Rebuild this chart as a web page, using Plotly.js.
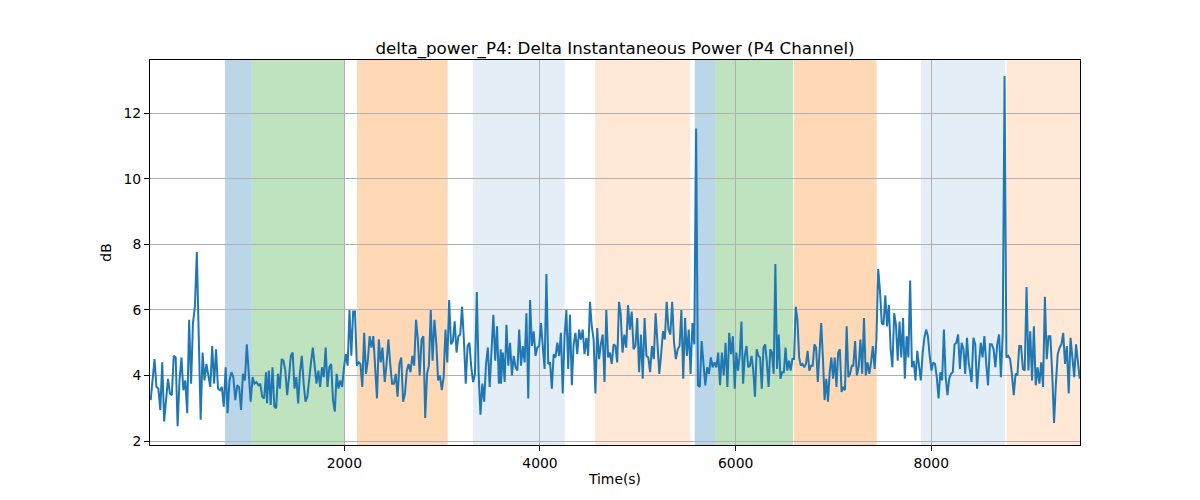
<!DOCTYPE html>
<html>
<head>
<meta charset="utf-8">
<script src="https://cdn.plot.ly/plotly-3.0.1.min.js"></script>
<style>html,body{margin:0;padding:0;background:#fff;}#chart{width:1200px;height:500px;}</style>
</head>
<body>
<div id="chart"></div>
<script>
// ---- data: signal, in 8 consecutive stretches ----
const segStart = [21, 1210, 2413, 3602, 4825, 6007, 7203, 8393];
const segEnd   = [1200, 2409, 3599, 4808, 5991, 7187, 8383, 9517];
const seg1 = [3.25,3.8,4.5,3.65,3.6,2.95,4.4,2.6,3.25,3.9,3.45,3.4,4.6,4.55,2.45,3.85,4.55,3.55,3.85,2.85,5.7,3.75,5.6,6.1,7.77,5.0,2.65,4.7,3.85,4.35,3.95,3.65,4.9,3.75,4.8,3.6,3.55,3.65,3.05,4.25,2.85,3.85,4.1,3.95,3.25,3.7,3.65,2.95,4.05,3.85,4.95,4.15,3.2,3.95,3.75,3.8,3.7,3.75,3.35,3.3,4.1];
const seg2 = [3.15,4.15,3.1,4.25,3.05,3.0,4.05,3.6,4.5,4.45,4.15,3.4,3.95,4.6,4.7,3.6,3.95,3.15,4.1,4.6,3.75,3.2,3.35,4.0,4.4,4.85,4.25,3.75,4.15,3.65,4.25,3.95,4.85,3.65,4.25,4.35,3.25,2.9,4.05,3.6,3.85,3.65,4.25,4.65,4.3,6.0,4.6,5.95,5.95,4.3,4.4,4.35,3.65,5.3,4.05,4.45,5.2,4.85,5.2,4.25,3.3,5.1,4.4,4.85,3.9];
const seg3 = [3.8,4.35,5.1,4.35,3.75,3.75,4.05,3.35,4.35,4.55,3.2,3.45,4.15,4.35,4.1,4.6,4.3,5.7,5.1,4.0,5.1,5.2,2.7,4.05,4.3,6.0,4.45,5.7,5.0,3.85,4.0,3.55,3.95,5.4,4.4,6.3,4.95,5.05,5.65,4.7,5.2,5.25,6.1,5.1,3.75,4.9,5.0,4.25,3.8,4.05,6.55,4.05,2.8,3.75,3.2,4.35,4.85,3.65,5.0,5.85,4.45,5.5,3.75,4.8];
const seg4 = [3.75,4.7,3.8,5.55,4.3,5.0,4.0,4.6,4.25,4.15,5.4,4.3,4.9,4.4,5.9,3.3,6.3,4.9,5.35,4.6,4.85,4.9,5.6,4.8,4.2,7.1,4.35,4.4,3.6,4.65,4.55,5.0,4.6,5.3,3.45,5.2,6.0,4.2,5.85,3.7,4.95,5.3,4.65,5.4,5.1,5.4,4.65,5.15,4.6,6.25,5.5,5.1,3.45,5.45,4.5,4.95,5.25,3.8,6.0,4.55,4.7,4.35,4.95,4.9,4.4,6.25];
const seg5 = [5.9,4.7,5.25,4.85,6.15,5.4,5.95,4.8,4.9,5.75,4.1,5.25,3.9,5.75,4.6,4.55,4.1,4.9,4.5,5.9,4.85,4.05,4.65,5.35,5.1,6.25,5.4,5.25,6.25,5.0,4.5,4.8,4.9,6.0,3.9,5.75,4.6,5.4,4.05,5.6,4.95,11.54,3.7,3.65,5.05,4.4,3.7,4.25,4.05,4.55,4.25,4.4,4.25,4.7,3.7,4.7,4.0,5.0,3.65,5.3,4.65,5.2,3.6];
const seg6 = [4.7,4.15,4.6,5.65,3.75,4.6,4.9,4.25,4.3,4.6,4.15,3.35,4.8,4.6,4.55,3.6,4.85,4.95,4.4,3.65,4.8,4.7,4.05,7.4,4.2,5.25,3.9,4.1,4.1,4.85,4.15,4.45,4.15,4.5,4.5,6.1,5.7,4.55,4.3,4.35,4.25,4.35,4.75,4.15,4.3,4.3,4.95,4.85,3.8,4.65,5.6,4.55,3.25,3.9,3.2,4.1,4.55,3.9,4.55,3.65,4.7,4.8,3.5,3.65,3.55,5.5,3.95,4.05,4.3];
const seg7 = [4.3,5.05,4.0,4.25,5.1,4.05,5.75,4.0,4.4,4.05,4.4,4.9,4.2,5.1,7.25,6.6,5.6,5.55,6.45,5.5,6.15,4.8,4.25,5.9,5.55,4.45,5.65,4.55,5.75,3.9,5.2,4.55,6.9,4.25,4.45,3.85,4.75,4.35,3.85,4.65,5.15,5.4,5.2,4.6,4.15,4.4,4.35,3.95,3.3,4.1,3.85,5.4,3.95,3.4,3.9,4.05,4.1,4.95,5.0,5.25,4.2,5.0,4.8,4.05,5.15,4.35];
const seg8 = [4.2,3.8,5.15,4.95,3.6,4.35,5.0,4.55,5.2,4.35,3.7,4.95,4.95,4.8,4.25,4.95,5.25,3.95,5.3,13.14,4.55,4.6,4.5,4.05,3.4,4.05,4.0,4.9,4.9,4.2,4.15,6.7,4.15,5.35,3.85,5.5,3.7,4.25,3.75,4.4,3.65,6.4,4.5,5.2,5.2,4.05,2.55,3.75,4.65,4.85,4.95,5.3,4.35,4.9,3.45,5.15,4.4,3.95,4.95,4.4,3.9];

// shaded intervals (time, s) and their kind
const spanStarts = [781, 1054, 2130, 3316, 4563, 5582, 5792, 6597, 7895, 8771];
const spanEnds   = [1054, 2000, 3057, 4253, 5534, 5792, 6587, 7442, 8753, 9520];
const spanKinds  = ['blue','green','orange','lightblue','lightorange','blue','green','orange','lightblue','lightorange'];

const titleText = 'delta_power_P4: Delta Instantaneous Power (P4 Channel)';
const xLabel = 'Time(s)';
const yLabel = 'dB';
const xTicks = [2000, 4000, 6000, 8000];
const yTicks = [2, 4, 6, 8, 10, 12];

// ---- build ----
const segs = [seg1, seg2, seg3, seg4, seg5, seg6, seg7, seg8];
const xs = [], ys = [];
segs.forEach((s, k) => {
  const n = s.length;
  for (let i = 0; i < n; i++) {
    xs.push(segStart[k] + (segEnd[k] - segStart[k]) * i / (n - 1));
    ys.push(s[i]);
  }
});

const spanColors = {
  blue: 'rgba(31,119,180,0.3)',
  green: 'rgba(44,160,44,0.3)',
  orange: 'rgba(255,127,14,0.3)',
  lightblue: 'rgba(31,119,180,0.12)',
  lightorange: 'rgba(255,127,14,0.17)'
};
const shapes = spanStarts.map((s, i) => ({
  type: 'rect', xref: 'x', yref: 'paper', x0: s, x1: spanEnds[i], y0: 0, y1: 1,
  fillcolor: spanColors[spanKinds[i]], line: {width: 0}, layer: 'below'
}));

const font = 'DejaVu Sans, sans-serif';
const trace = {
  x: xs, y: ys, type: 'scatter', mode: 'lines',
  line: {color: '#1f77b4', width: 2}, hoverinfo: 'skip'
};
const axisCommon = {
  showgrid: true, gridcolor: '#b0b0b0', gridwidth: 1,
  showline: true, linecolor: '#000', linewidth: 1, mirror: true,
  ticks: 'outside', ticklen: 5, tickwidth: 1, tickcolor: '#000',
  tickfont: {family: font, size: 13.9, color: '#000'},
  zeroline: false, automargin: false
};
const layout = {
  width: 1200, height: 500,
  margin: {l: 150, r: 120, t: 60, b: 55},
  paper_bgcolor: '#fff', plot_bgcolor: '#fff',
  showlegend: false,
  title: {text: titleText, font: {family: font, size: 16.7, color: '#000'},
          x: 0.5, xref: 'paper', xanchor: 'center', y: 1, yref: 'paper', yanchor: 'bottom', pad: {b: 6}},
  xaxis: Object.assign({}, axisCommon, {
    range: [14, 9520], tickvals: xTicks, ticktext: xTicks.map(String),
    title: {text: xLabel, font: {family: font, size: 13.9, color: '#000'}, standoff: 4}
  }),
  yaxis: Object.assign({}, axisCommon, {
    range: [1.878, 13.63], tickvals: yTicks, ticktext: yTicks.map(String),
    title: {text: yLabel, font: {family: font, size: 13.9, color: '#000'}, standoff: 8}
  }),
  shapes: shapes
};
Plotly.newPlot('chart', [trace], layout, {staticPlot: true, displayModeBar: false});
</script>
</body>
</html>
